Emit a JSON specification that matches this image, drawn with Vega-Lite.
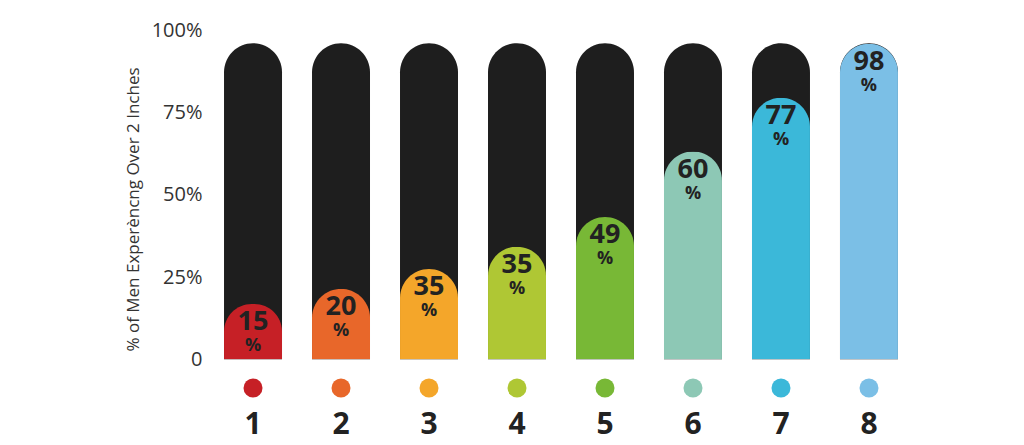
{
  "$schema": "https://vega.github.io/schema/vega-lite/v6.json",
  "autosize": "none",
  "padding": {"left": 211, "top": 30, "right": 0, "bottom": 0},
  "width": 700,
  "height": 415,
  "background": "white",
  "config": {
    "view": {"stroke": null},
    "font": "Open Sans"
  },
  "data": {
    "values": [
      {"cat": "1", "pct": 16.8, "label": "15"},
      {"cat": "2", "pct": 21.4, "label": "20"},
      {"cat": "3", "pct": 27.4, "label": "35"},
      {"cat": "4", "pct": 34.2, "label": "35"},
      {"cat": "5", "pct": 43.2, "label": "49"},
      {"cat": "6", "pct": 63.1, "label": "60"},
      {"cat": "7", "pct": 79.4, "label": "77"},
      {"cat": "8", "pct": 95.8, "label": "98"}
    ]
  },
  "encoding": {
    "x": {
      "field": "cat",
      "type": "nominal",
      "scale": {"paddingInner": 0.341, "paddingOuter": 0.148},
      "axis": null
    }
  },
  "layer": [
    {
      "mark": {"type": "bar", "color": "#1e1e1e", "cornerRadiusTopLeft": 29, "cornerRadiusTopRight": 29},
      "encoding": {
        "y": {
          "datum": 96,
          "type": "quantitative",
          "scale": {"domain": [-26, 100], "nice": false, "zero": false},
          "axis": {
            "values": [0, 25, 50, 75, 100],
            "labelExpr": "datum.value == 0 ? '0' : datum.value + '%'",
            "labelFontSize": 20,
            "labelColor": "#333333",
            "labelPadding": 9,
            "ticks": false,
            "domain": false,
            "gridColor": "#c8c8c8",
            "gridWidth": 1.5,
            "title": "% of Men Experèncng Over 2 Inches",
            "titleFontSize": 17,
            "titleFontWeight": "normal",
            "titleColor": "#333333",
            "titleAngle": -90,
            "titleAlign": "center",
            "titleBaseline": "middle",
            "titleX": -78,
            "titleY": 179
          }
        }
      }
    },
    {
      "mark": {"type": "bar", "cornerRadiusTopLeft": 29, "cornerRadiusTopRight": 29},
      "encoding": {
        "y": {"field": "pct", "type": "quantitative"},
        "color": {
          "field": "cat",
          "type": "nominal",
          "scale": {"range": ["#c62026", "#e8672a", "#f4a62a", "#afc734", "#78b836", "#8dc8b5", "#3bb8d9", "#7bbfe6"]},
          "legend": null
        }
      }
    },
    {
      "mark": {"type": "rule", "color": "#a8a8a8", "strokeWidth": 1.5},
      "encoding": {"y": {"datum": 0, "type": "quantitative"}}
    },
    {
      "mark": {"type": "text", "fontSize": 27, "fontWeight": "bold", "color": "#222222", "baseline": "middle", "dy": 18},
      "encoding": {
        "y": {"field": "pct", "type": "quantitative"},
        "text": {"field": "label"}
      }
    },
    {
      "mark": {"type": "text", "fontSize": 18, "fontWeight": "bold", "color": "#222222", "baseline": "middle", "dy": 42, "text": "%"},
      "encoding": {
        "y": {"field": "pct", "type": "quantitative"}
      }
    },
    {
      "mark": {"type": "point", "filled": true, "opacity": 1, "size": 361, "shape": "circle"},
      "encoding": {
        "y": {"datum": -8.7, "type": "quantitative"},
        "color": {"field": "cat", "type": "nominal", "legend": null}
      }
    },
    {
      "mark": {"type": "text", "fontSize": 30, "fontWeight": "bold", "color": "#222222", "baseline": "middle"},
      "encoding": {
        "y": {"datum": -20, "type": "quantitative"},
        "text": {"field": "cat"}
      }
    }
  ]
}
